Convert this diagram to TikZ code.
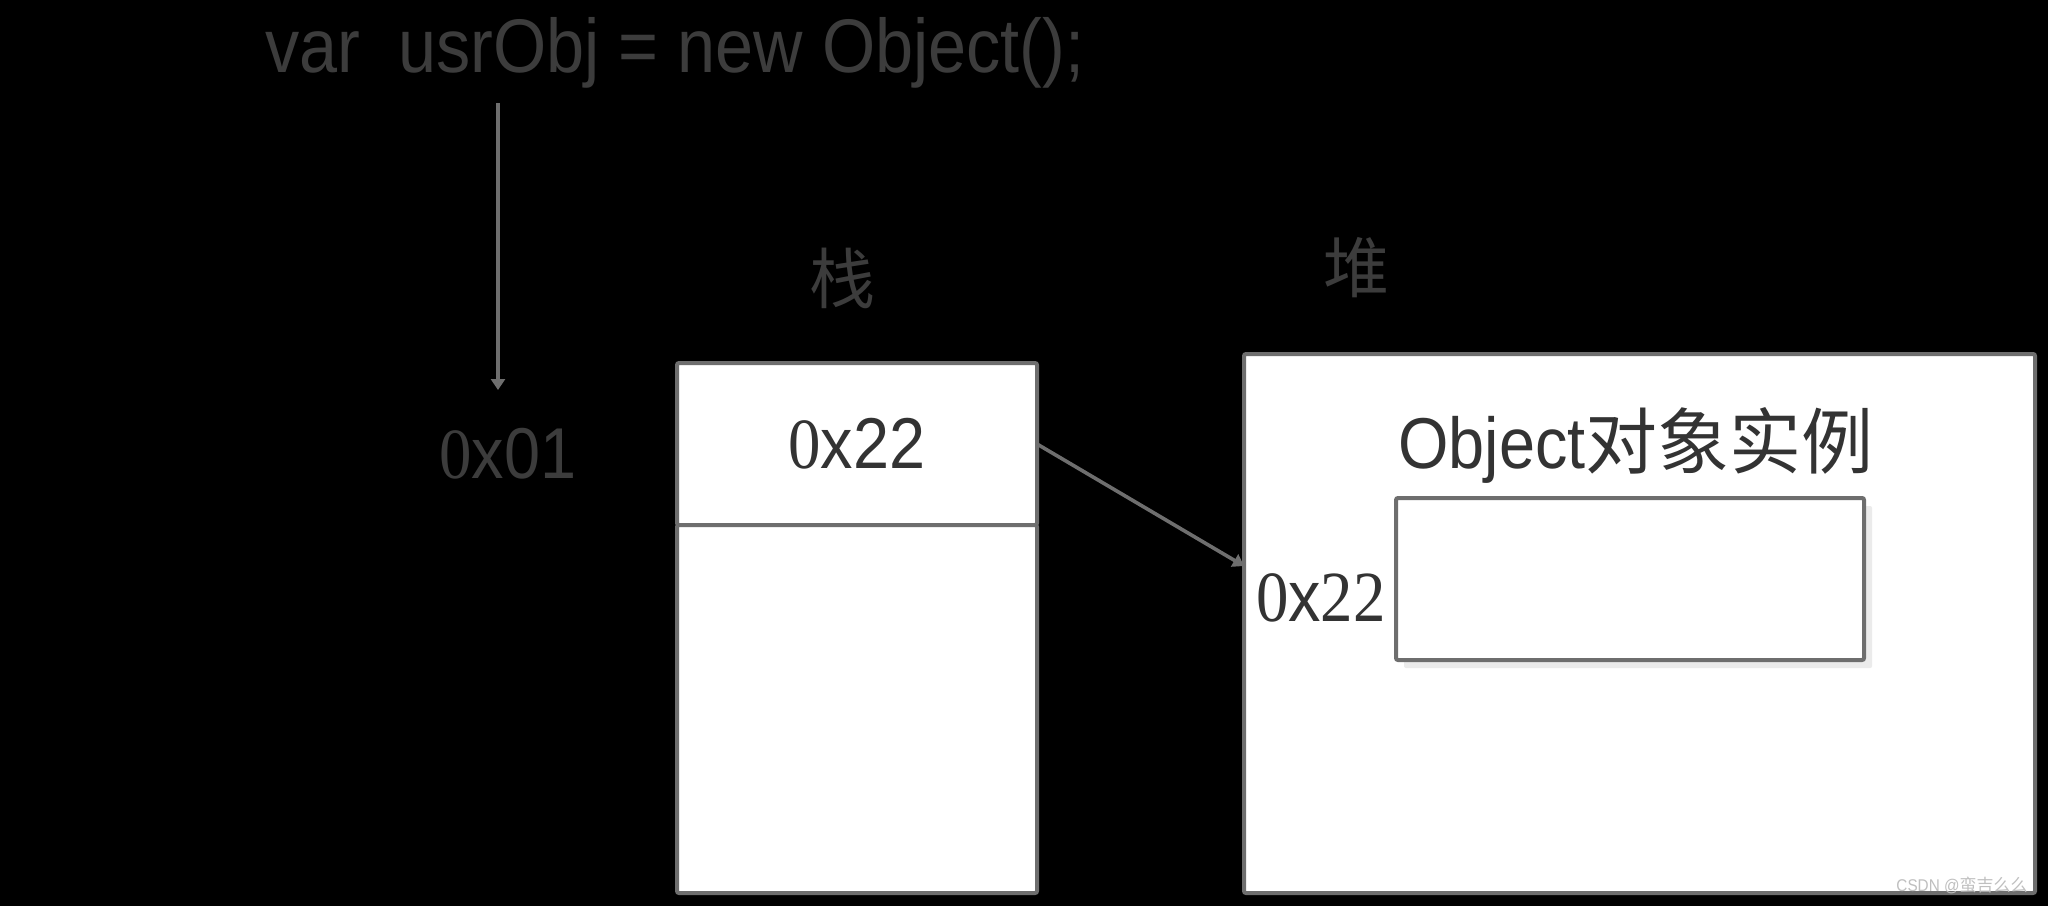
\documentclass[tikz,border=0pt]{standalone}
\usepackage{fontspec}
\setmainfont{Liberation Sans}[FakeStretch=0.9]
\newfontfamily\zerofont{Liberation Serif}[FakeStretch=0.9]
\newfontfamily\cjk{Noto Sans CJK SC}
\usetikzlibrary{arrows.meta, positioning, shadows}
\definecolor{boxline}{HTML}{6E6E6E}
\definecolor{dimtext}{HTML}{3C3C3C}
\definecolor{boxtext}{HTML}{333333}
\newcommand{\sz}{{\zerofont 0}}

\tikzset{
  cell/.style={draw=boxline, line width=2pt, fill=white, rounded corners=1pt,
               outer sep=0pt, inner sep=0pt, text=boxtext},
  ptr/.style={draw=boxline, line width=1.8pt, -{Triangle[width=7pt,length=5.5pt]}},
  dim/.style={text=dimtext, inner sep=0pt},
  big/.style={font=\fontsize{36}{40}\selectfont},
}

\begin{document}
\begin{tikzpicture}[x=0.5pt, y=-0.5pt]
\fill[black] (0,0) rectangle (2048,906);
\useasboundingbox (0,0) rectangle (2048,906);

% the statement and its reference
\node[dim, anchor=base west, font=\fontsize{38}{40}\selectfont] (code) at (265,72) {var\ \ usrObj = new Object();};
\coordinate (reftop) at (498,103);
\coordinate (refend) at (498,390);
\draw[ptr] (reftop) -- (refend);
\node[dim, big, anchor=base] (ref) at (508,478) {\sz x01};

% stack
\node[dim, font=\cjk\fontsize{33}{36}\selectfont] (stacklbl) at (842,278) {栈};
\node[cell, big, minimum width=180pt, minimum height=81pt] (stackval) at (857,444) {\sz x22};
\node[cell, minimum width=180pt, minimum height=184pt, below=0pt of stackval] (stackrest) {};

% heap
\node[dim, font=\cjk\fontsize{33}{36}\selectfont] (heaplbl) at (1356,268) {堆};
\node[cell, minimum width=395.5pt, minimum height=269.5pt] (heap) at (1639.5,623.5) {};
\node[big, anchor=base, inner sep=0pt, text=boxtext] (objlbl) at (1636,468) {Object{\cjk 对象实例}};
\node[cell, drop shadow={shadow xshift=4pt, shadow yshift=-4pt, fill=black!8, opacity=1},
      minimum width=234pt, minimum height=81pt] (inst) at (1630,579) {};
\node[big, anchor=base east, inner sep=0pt, text=boxtext] (addr) at (1386,621) {\sz x{\zerofont 22}};
\coordinate (heapin) at (1244,566);
\draw[ptr] (stackval.east) -- (heapin);

% watermark
\node[anchor=base east, inner sep=0pt, text=black!25, font=\fontsize{8.5}{10}\selectfont] (mark) at (2028,891) {CSDN @{\cjk 蛮吉么么}};
\end{tikzpicture}
\end{document}
